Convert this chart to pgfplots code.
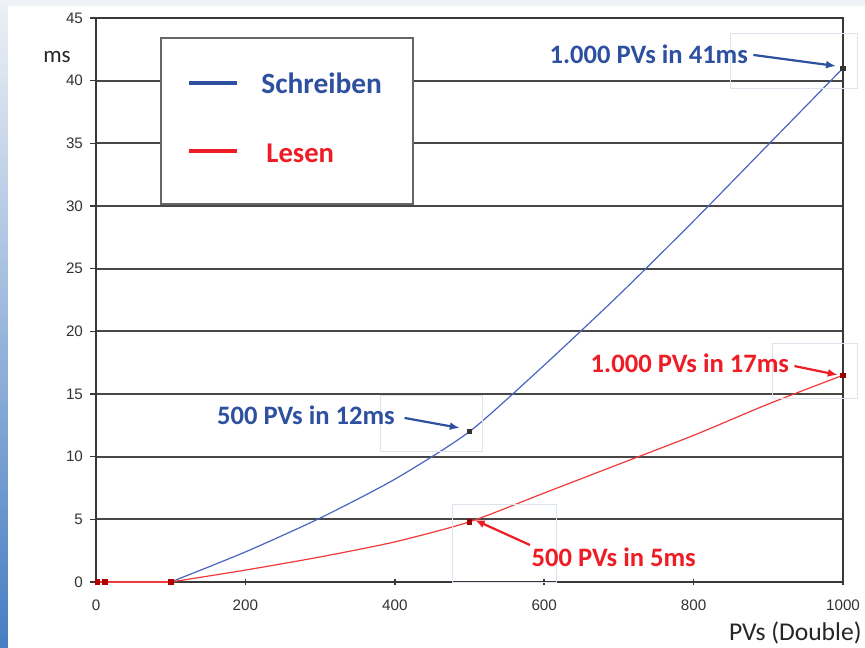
\documentclass[border=0pt]{standalone}
\usepackage{pgfplots}
\pgfplotsset{compat=1.18}
\usetikzlibrary{arrows.meta}
\usepackage{fontspec}
\setmainfont{Carlito}
\newfontfamily\arialfont{Liberation Sans}
\definecolor{sblue}{HTML}{2E50A0}
\definecolor{lblue}{HTML}{4A64C0}
\definecolor{sred}{HTML}{EE1C25}
\definecolor{lred}{HTML}{F03A3A}
\definecolor{faint}{HTML}{DCE4EE}
\definecolor{topbg}{HTML}{EEF1F5}
\begin{document}
\begin{tikzpicture}
\useasboundingbox (-48pt,-32.5pt) rectangle (384.5pt,291pt);
\fill[white] (-48pt,-32.5pt) rectangle (384.5pt,291pt);
\fill[topbg] (-48pt,288pt) rectangle (384.5pt,291pt);
\shade[top color=topbg, bottom color={rgb,255:red,70;green,125;blue,195}] (-48pt,-32.5pt) rectangle (-44pt,291pt);
\begin{axis}[
  scale only axis, width=373.5pt, height=282pt,
  xmin=0, xmax=1000, ymin=0, ymax=45,
  xtick={0,200,...,1000}, ytick={0,5,...,45},
  ymajorgrids, grid style={draw=black!72, line width=0.9pt},
  axis line style={draw=black!78, line width=1pt},
  tick style={draw=black!78, line width=0.8pt},
  major tick length=3pt,
  xtick align=center, ytick align=outside,
  tick pos=left,
  clip=false,
  ticklabel style={font=\arialfont\fontsize{7.6}{8.5}\selectfont, text=black!80},
  /pgf/number format/assume math mode=true,
  /pgf/number format/1000 sep={},
  xticklabel style={yshift=-4pt},
]
% Schreiben
\addplot[lblue, line width=0.6pt] coordinates {(1,0) (10,0) (100,0)};
\addplot[lblue, line width=0.6pt, smooth, tension=0.4] coordinates {
 (100,0) (200,2.4) (300,5.1) (400,8.2) (500,12) (600,17.3) (700,22.9) (800,28.8) (900,34.9) (1000,41)};
% Lesen
\addplot[lred, line width=0.6pt] coordinates {(1,0) (10,0) (100,0)};
\addplot[lred, line width=0.6pt, smooth, tension=0.4] coordinates {
 (100,0) (200,0.95) (300,2.0) (400,3.2) (500,4.8) (600,7.1) (700,9.4) (800,11.7) (900,14.2) (1000,16.5)};
\addplot[only marks, mark=square*, mark size=1.1pt, color=black!80] coordinates {(500,12) (1000,41)};
\addplot[only marks, mark=square*, mark size=1.1pt, color=red!60!black] coordinates {(500,4.8) (1000,16.5)};
\addplot[only marks, mark=square*, mark size=1.1pt, color=red!70!black] coordinates {(2,0) (12,0) (100,0)};

% faint selection boxes
\draw[faint, line width=0.5pt] (axis cs:849.4,43.8) rectangle (axis cs:1020,39.4);
\draw[faint, line width=0.5pt] (axis cs:380.2,14.92) rectangle (axis cs:518,10.45);
\draw[faint, line width=0.5pt] (axis cs:905,18.99) rectangle (axis cs:1020,14.68);
\draw[faint, line width=0.5pt] (axis cs:476.6,6.22) rectangle (axis cs:616.9,0);

% legend
\draw[black!60, fill=white, line width=0.8pt] (axis cs:87,43.4) rectangle (axis cs:424.4,30.16);
\draw[sblue, line width=2.2pt] (axis cs:124.5,39.81) -- (axis cs:188.8,39.81);
\draw[sred, line width=2.2pt] (axis cs:124.5,34.39) -- (axis cs:188.8,34.39);
\node[anchor=west, inner sep=0pt, text=sblue, font=\bfseries\fontsize{14.7}{16}\selectfont] at (axis cs:220.9,39.81) {Schreiben};
\node[anchor=west, inner sep=0pt, text=sred, font=\bfseries\fontsize{14.3}{16}\selectfont] at (axis cs:227.6,34.2) {Lesen};

% annotations
\node[text=sblue, font=\bfseries\fontsize{13.3}{15}\selectfont] at (axis cs:740,42.13) {1.000 PVs in 41ms};
\draw[sblue, line width=1.1pt, -{Latex[length=5pt,width=4pt]}] (axis cs:880,42.05) -- (axis cs:990.6,41.17);
\node[text=sblue, font=\bfseries\fontsize{13.3}{15}\selectfont] at (axis cs:281,13.32) {500 PVs in 12ms};
\draw[sblue, line width=1.1pt, -{Latex[length=5pt,width=4pt]}] (axis cs:413,13.09) -- (axis cs:487,12.29);
\node[text=sred, font=\bfseries\fontsize{13.3}{15}\selectfont] at (axis cs:795,17.47) {1.000 PVs in 17ms};
\draw[sred, line width=1.1pt, -{Latex[length=5pt,width=4pt]}] (axis cs:935,17.23) -- (axis cs:993,16.52);
\node[text=sred, font=\bfseries\fontsize{13.3}{15}\selectfont] at (axis cs:693,1.99) {500 PVs in 5ms};
\draw[sred, line width=1.1pt, -{Latex[length=5pt,width=4pt]}] (axis cs:581,2.95) -- (axis cs:507,4.95);

% axis labels
\node[text=black!85, font=\fontsize{11.5}{13}\selectfont] at (axis cs:-52.2,41.89) {ms};
\node[anchor=east, inner sep=0pt, text=black!85, font=\fontsize{12.8}{14}\selectfont] at (axis cs:1025.4,-4.07) {PVs (Double)};
\end{axis}
\end{tikzpicture}
\end{document}
